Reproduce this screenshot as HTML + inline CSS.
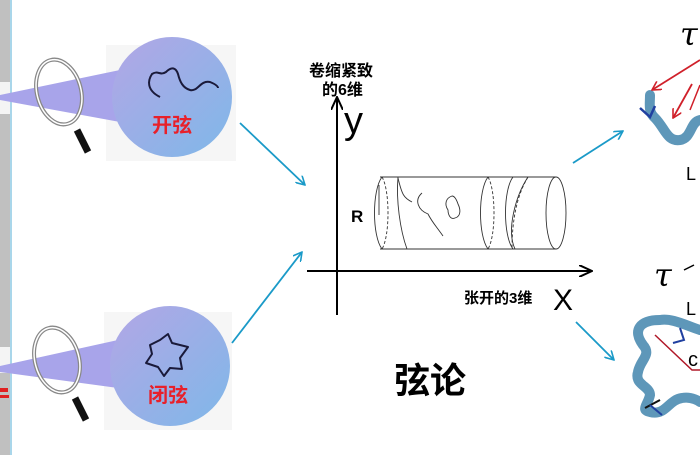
<!DOCTYPE html>
<html><head><meta charset="utf-8"><style>
html,body{margin:0;padding:0;background:#fff;width:700px;height:470px;overflow:hidden}
svg{display:block}
.cn{font-family:"Liberation Sans","Noto Sans CJK SC",sans-serif;font-weight:bold}
</style></head><body>
<svg width="700" height="470" viewBox="0 0 700 470" xmlns="http://www.w3.org/2000/svg">
<defs>
<linearGradient id="g" x1="0" y1="0" x2="1" y2="1">
<stop offset="0" stop-color="#b3a6e6"/><stop offset="1" stop-color="#7fb8e8"/>
</linearGradient>
<marker id="ca" markerWidth="10" markerHeight="10" refX="9" refY="5" orient="auto" markerUnits="userSpaceOnUse">
<path d="M0,0 L9,5 L0,10" fill="none" stroke="#1a9ac8" stroke-width="1.6"/></marker>
<marker id="ka" markerWidth="14" markerHeight="12" refX="13" refY="6" orient="auto" markerUnits="userSpaceOnUse">
<path d="M0,0 L13,6 L0,12" fill="none" stroke="#000" stroke-width="2"/></marker>
<marker id="ra" markerWidth="10" markerHeight="10" refX="9" refY="5" orient="auto" markerUnits="userSpaceOnUse">
<path d="M0,0 L9,5 L0,10" fill="none" stroke="#d0202a" stroke-width="1.6"/></marker>
</defs>
<!-- left strip -->
<rect x="0" y="0" width="10" height="455" fill="#c0c0c0"/>
<rect x="10" y="0" width="2" height="455" fill="#a9d6ea"/>
<rect x="0" y="82" width="10" height="32" fill="#f4f4f4"/>
<rect x="0" y="347" width="10" height="26" fill="#f4f4f4"/>
<rect x="0" y="388" width="8" height="4" fill="#e02020"/>
<rect x="0" y="395" width="9" height="3" fill="#e02020"/>
<!-- faint squares -->
<rect x="106" y="45" width="130" height="116" fill="#f6f6f6"/>
<rect x="104" y="312" width="128" height="118" fill="#f6f6f6"/>
<!-- beams -->
<polygon points="0,95 0,100 120,122 120,70" fill="#a8a4ea"/>
<polygon points="0,366 0,372 118,388 118,340" fill="#a8a4ea"/>
<!-- circles -->
<circle cx="172" cy="97" r="60" fill="url(#g)"/>
<circle cx="170" cy="366" r="60" fill="url(#g)"/>
<!-- magnifiers -->
<ellipse cx="59" cy="92" rx="22" ry="33" transform="rotate(-15 59 92)" fill="none" stroke="#888" stroke-width="4"/>
<ellipse cx="59" cy="92" rx="22" ry="33" transform="rotate(-15 59 92)" fill="none" stroke="#fff" stroke-width="1.5"/>
<line x1="77" y1="130" x2="88" y2="152" stroke="#111" stroke-width="7"/>
<ellipse cx="57" cy="360" rx="22" ry="33" transform="rotate(-15 57 360)" fill="none" stroke="#888" stroke-width="4"/>
<ellipse cx="57" cy="360" rx="22" ry="33" transform="rotate(-15 57 360)" fill="none" stroke="#fff" stroke-width="1.5"/>
<line x1="75" y1="398" x2="86" y2="420" stroke="#111" stroke-width="7"/>
<!-- strings -->
<path d="M160,97 C146,90 148,80 152,74 C158,70 160,76 166,72 C172,66 176,68 178,74 C180,82 183,88 190,90 C198,92 200,80 210,82 C215,84 218,86 218,88" fill="none" stroke="#1a1a3a" stroke-width="2"/>
<path d="M150,345 L160,340 L168,334 L172,343 L188,347 L180,358 L182,369 L170,368 L164,376 L158,367 L146,363 L152,354 Z" fill="none" stroke="#1a1a3a" stroke-width="2" stroke-linejoin="round"/>
<text x="172" y="132" class="cn" font-size="20" fill="#e8202a" text-anchor="middle">开弦</text>
<text x="168" y="402" class="cn" font-size="20" fill="#e8202a" text-anchor="middle">闭弦</text>
<!-- cyan arrows -->
<line x1="240" y1="123" x2="305" y2="185" stroke="#1a9ac8" stroke-width="1.8" marker-end="url(#ca)"/>
<line x1="232" y1="343" x2="302" y2="252" stroke="#1a9ac8" stroke-width="1.8" marker-end="url(#ca)"/>
<line x1="573" y1="163" x2="623" y2="131" stroke="#1a9ac8" stroke-width="1.8" marker-end="url(#ca)"/>
<line x1="576" y1="322" x2="614" y2="360" stroke="#1a9ac8" stroke-width="1.8" marker-end="url(#ca)"/>
<!-- axes -->
<line x1="337" y1="315" x2="337" y2="97" stroke="#000" stroke-width="2" marker-end="url(#ka)"/>
<line x1="307" y1="271" x2="592" y2="271" stroke="#000" stroke-width="2" marker-end="url(#ka)"/>
<text x="344" y="133" font-family="Liberation Sans,sans-serif" font-size="38" fill="#000">y</text>
<text x="553" y="310" font-family="Liberation Sans,sans-serif" font-size="30" fill="#000">X</text>
<text x="309" y="76" class="cn" font-size="16" fill="#000">卷缩紧致</text>
<text x="322" y="95" class="cn" font-size="16" fill="#000">的6维</text>
<text x="464" y="303" class="cn" font-size="15" fill="#000">张开的3维</text>
<text x="351" y="222" font-family="Liberation Sans,sans-serif" font-weight="bold" font-size="17">R</text>
<!-- cylinder -->
<g fill="none" stroke="#333" stroke-width="0.9">
<line x1="380" y1="177" x2="556" y2="177"/>
<line x1="380" y1="249" x2="556" y2="249"/>
<path d="M382,177 C372,190 372,236 382,249"/>
<path d="M382,177 C390,190 390,236 382,249" stroke-dasharray="3,2"/>
<ellipse cx="556" cy="213" rx="10" ry="36"/>
<path d="M488,177 C478,190 478,236 488,249"/>
<path d="M488,177 C496,190 496,236 488,249" stroke-dasharray="3,2"/>
<path d="M513,177 C503,190 503,236 513,249"/>
<path d="M528,177 C514,200 512,230 512,249" stroke-dasharray="3,2"/>
<path d="M528,177 C516,195 506,230 515,249"/>
<line x1="379" y1="185" x2="379" y2="215"/>
<path d="M398,177 C396,200 400,230 407,249"/>
<path d="M398,178 C402,195 404,198 412,202" />
<path d="M422,193 C414,200 418,210 428,214 C432,222 436,226 443,236"/>
<path d="M452,196 C446,198 444,204 448,210 C448,214 450,220 455,218 C462,216 460,208 458,204 C456,198 454,196 452,196 Z"/>
</g>
<text x="430" y="393" class="cn" font-size="36" fill="#000" text-anchor="middle">弦论</text>
<!-- right side -->
<text x="680" y="45" font-family="DejaVu Serif,serif" font-style="italic" font-size="32" fill="#000">τ</text>
<text x="654" y="286" font-family="DejaVu Serif,serif" font-style="italic" font-size="32" fill="#000">τ</text>
<path d="M684,270 L694,265" stroke="#000" stroke-width="1.5"/>
<text x="686" y="180" font-family="Liberation Sans,sans-serif" font-size="18" fill="#000">L</text>
<text x="686" y="315" font-family="Liberation Sans,sans-serif" font-size="18" fill="#000">L</text>
<path d="M650,95 C650,105 648,112 655,118 C665,128 667,142 680,140 C692,138 690,122 700,120" fill="none" stroke="#5e97b9" stroke-width="10" stroke-linecap="round"/>
<path d="M640,108 L650,117 L655,106" fill="none" stroke="#2040a0" stroke-width="2.5"/>
<line x1="700" y1="60" x2="652" y2="90" stroke="#d0202a" stroke-width="1.8" marker-end="url(#ra)"/>
<line x1="692" y1="84" x2="673" y2="118" stroke="#d0202a" stroke-width="1.8" marker-end="url(#ra)"/>
<line x1="700" y1="85" x2="690" y2="110" stroke="#d0202a" stroke-width="1.5"/>
<path d="M700,330 C685,325 672,318 660,320 C640,320 632,330 643,345 C652,355 640,360 638,372 C634,385 650,386 650,395 C648,405 640,410 650,412 C666,416 668,400 682,398 C692,396 700,402 700,402" fill="none" stroke="#5e97b9" stroke-width="10" stroke-linecap="round"/>
<path d="M655,335 L692,370 L700,370" fill="none" stroke="#b01828" stroke-width="1.5"/>
<path d="M680,328 L684,340 L673,343" fill="none" stroke="#2040a0" stroke-width="2"/>
<line x1="645" y1="408" x2="660" y2="400" stroke="#111" stroke-width="2"/>
<line x1="650" y1="405" x2="662" y2="415" stroke="#2040a0" stroke-width="2"/>
<text x="688" y="366" font-family="Liberation Sans,sans-serif" font-size="20" fill="#000">c</text>
</svg>
</body></html>
